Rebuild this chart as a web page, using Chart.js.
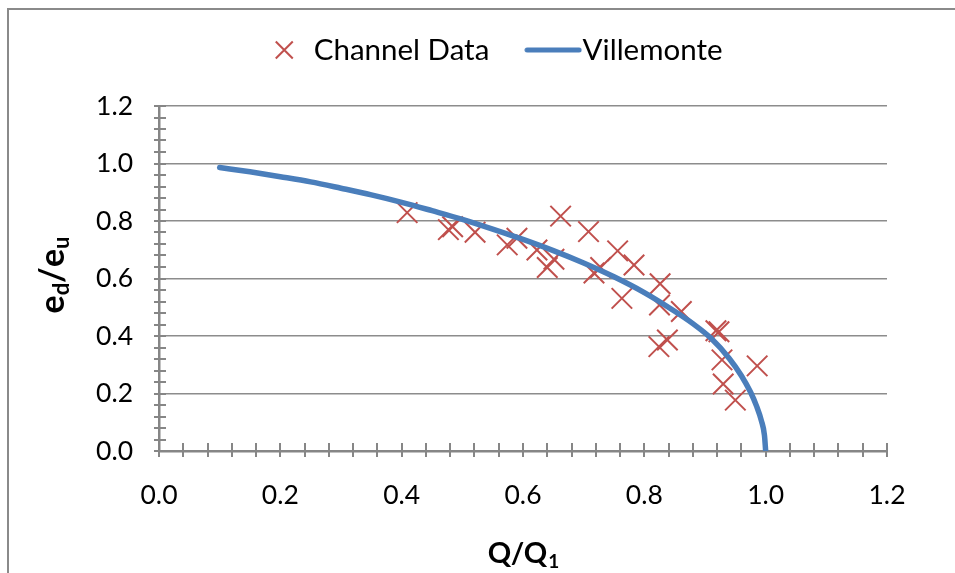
<!DOCTYPE html>
<html>
<head>
<meta charset="utf-8">
<script src="https://cdn.jsdelivr.net/npm/chart.js@4.4.0/dist/chart.umd.min.js"></script>
<style>
html,body{margin:0;padding:0;background:#fff;}
#wrap{width:955px;height:573px;position:relative;}
</style>
</head>
<body>
<div id="wrap"><canvas id="c" width="955" height="573"></canvas></div>
<script>
// ---- data ----
const seriesNames = ['Channel Data', 'Villemonte'];
const channelQ = [0.409,0.477,0.484,0.521,0.574,0.590,0.623,0.651,0.640,0.662,0.708,0.756,0.783,0.717,0.728,0.763,0.826,0.825,0.861,0.918,0.923,0.838,0.824,0.928,0.986,0.930,0.950];
const channelE = [0.829,0.770,0.780,0.761,0.717,0.740,0.699,0.667,0.638,0.817,0.763,0.696,0.647,0.619,0.638,0.531,0.582,0.508,0.485,0.418,0.415,0.386,0.363,0.317,0.296,0.233,0.177];
const villQ = [0.100,0.150,0.200,0.250,0.300,0.350,0.400,0.450,0.500,0.550,0.600,0.650,0.700,0.750,0.800,0.850,0.880,0.910,0.940,0.960,0.975,0.985,0.993,0.998,1.000];
const villE = [0.986,0.971,0.954,0.936,0.914,0.891,0.865,0.836,0.806,0.772,0.736,0.697,0.654,0.606,0.551,0.486,0.443,0.392,0.322,0.262,0.205,0.156,0.105,0.055,0.000];
const xTickLabels = ['0.0','0.2','0.4','0.6','0.8','1.0','1.2'];
const yTickLabels = ['0.0','0.2','0.4','0.6','0.8','1.0','1.2'];
const xTitle = ['Q/Q', '1'];
const yTitle = [['e', false], ['d', true], ['/', false], ['e', false], ['u', true]];

const RED = '#C0504D';
const BLUE = '#4A7EBB';
const AXIS = '#868686';
const FONT = 'Lato';

// legend sample for the line series (a short rounded stroke)
const lineSample = document.createElement('canvas');
lineSample.width = 58; lineSample.height = 8;
(function(){
  const g = lineSample.getContext('2d');
  g.strokeStyle = BLUE; g.lineWidth = 5; g.lineCap = 'round';
  g.beginPath(); g.moveTo(3, 4); g.lineTo(55, 4); g.stroke();
})();

const chartData = {
  datasets: [
    {
      label: seriesNames[1],
      type: 'line',
      data: villQ.map((q, i) => ({x: q, y: villE[i]})),
      borderColor: BLUE,
      backgroundColor: BLUE,
      borderWidth: 5.5,
      pointRadius: 0,
      fill: false,
      cubicInterpolationMode: 'monotone',
      borderCapStyle: 'round',
      borderJoinStyle: 'round'
    },
    {
      label: seriesNames[0],
      type: 'scatter',
      data: channelQ.map((q, i) => ({x: q, y: channelE[i]})),
      pointStyle: 'crossRot',
      pointRadius: 14.5,
      pointBorderWidth: 2,
      borderColor: RED,
      backgroundColor: RED,
      showLine: false
    }
  ]
};

const frame = {
  id: 'frame',
  beforeDraw(chart) {
    const ctx = chart.ctx;
    ctx.save();
    ctx.strokeStyle = '#8a8a8a';
    ctx.lineWidth = 2;
    ctx.strokeRect(8, 9, 1000, 700);
    ctx.restore();
  }
};

// extra room under the legend, and centre the legend row over x = 105..887
const legendSpace = {
  id: 'legendSpace',
  beforeLayout(chart) {
    const lg = chart.legend;
    if (lg && !lg._spaced) {
      const orig = lg.fit;
      lg.fit = function() { orig.call(this); this.height += 31.25; };
      lg._spaced = true;
    }
  },
  afterLayout(chart) {
    const lg = chart.legend;
    if (lg) { lg.left = 105; lg.right = 887; }
  }
};

const tickMarks = {
  id: 'tickMarks',
  beforeDatasetsDraw(chart) {
    const ctx = chart.ctx;
    const xs = chart.scales.x, ys = chart.scales.y;
    const a = chart.chartArea;
    ctx.save();
    ctx.strokeStyle = AXIS;
    ctx.lineWidth = 2;
    ctx.beginPath();
    for (let i = 0; i <= 30; i++) {
      const v = i * 0.04;
      const px = Math.round(xs.getPixelForValue(v));
      ctx.moveTo(px, a.bottom - 8);
      ctx.lineTo(px, a.bottom + 6);
      const py = Math.round(ys.getPixelForValue(v));
      ctx.moveTo(a.left - 5, py);
      ctx.lineTo(a.left + 7, py);
    }
    ctx.stroke();
    ctx.restore();
  }
};

const axisTitles = {
  id: 'axisTitles',
  afterDraw(chart) {
    const ctx = chart.ctx;
    const a = chart.chartArea;
    ctx.save();
    ctx.fillStyle = '#000';
    ctx.textBaseline = 'alphabetic';
    ctx.textAlign = 'left';
    // x title
    const mainX = 'bold 29px ' + FONT, subX = 'bold 19px ' + FONT;
    ctx.font = mainX; const w1 = ctx.measureText(xTitle[0]).width;
    ctx.font = subX; const w2 = ctx.measureText(xTitle[1]).width;
    let sx = (a.left + a.right) / 2 - (w1 + w2) / 2;
    const by = 563;
    ctx.font = mainX; ctx.fillText(xTitle[0], sx, by);
    ctx.font = subX; ctx.fillText(xTitle[1], sx + w1 + 1, by + 5);
    // y title (rotated)
    const mainY = 'bold 34px ' + FONT, subY = 'bold 22px ' + FONT;
    let total = 0;
    const widths = yTitle.map(([t, sub]) => { ctx.font = sub ? subY : mainY; const w = ctx.measureText(t).width; total += w; return w; });
    ctx.translate(64, 275);
    ctx.rotate(-Math.PI / 2);
    let cx = -total / 2;
    yTitle.forEach(([t, sub], i) => {
      ctx.font = sub ? subY : mainY;
      ctx.fillText(t, cx, sub ? 5 : 0);
      cx += widths[i];
    });
    ctx.restore();
  }
};

new Chart(document.getElementById('c'), {
  data: chartData,
  options: {
    responsive: false,
    animation: false,
    devicePixelRatio: 1,
    layout: { padding: { left: 0, right: 68, top: -13.75, bottom: 0 } },
    plugins: {
      tooltip: { enabled: false },
      title: { display: false },
      legend: {
        display: true,
        position: 'top',
        align: 'center',
        labels: {
          usePointStyle: true,
          boxHeight: 17,
          padding: 49,
          color: '#000',
          font: { family: FONT, size: 29.5 },
          generateLabels: () => [
            { text: seriesNames[0], pointStyle: 'crossRot', strokeStyle: RED, fillStyle: 'rgba(0,0,0,0)', lineWidth: 2, hidden: false, datasetIndex: 1 },
            { text: seriesNames[1], pointStyle: lineSample, strokeStyle: BLUE, fillStyle: BLUE, lineWidth: 0, hidden: false, datasetIndex: 0 }
          ]
        }
      }
    },
    scales: {
      x: {
        type: 'linear',
        position: 'bottom',
        min: 0, max: 1.2,
        afterFit(scale) { scale.height = 122; },
        ticks: {
          stepSize: 0.2,
          color: '#000',
          font: { family: FONT, size: 26.5 },
          padding: 29,
          maxRotation: 0,
          autoSkip: false,
          callback: (v) => xTickLabels[Math.round(v / 0.2)]
        },
        grid: { display: true, drawOnChartArea: false, drawTicks: false },
        border: { display: true, color: AXIS, width: 2.5 }
      },
      y: {
        type: 'linear',
        min: 0, max: 1.2,
        afterFit(scale) { scale.width = 159; },
        ticks: {
          stepSize: 0.2,
          color: '#000',
          font: { family: FONT, size: 26.5 },
          padding: 26,
          autoSkip: false,
          callback: (v) => yTickLabels[Math.round(v / 0.2)]
        },
        grid: { color: '#8c8c8c', lineWidth: 1.5, drawTicks: false },
        border: { display: true, color: AXIS, width: 2.5 }
      }
    }
  },
  plugins: [frame, legendSpace, tickMarks, axisTitles]
});
</script>
</body>
</html>
